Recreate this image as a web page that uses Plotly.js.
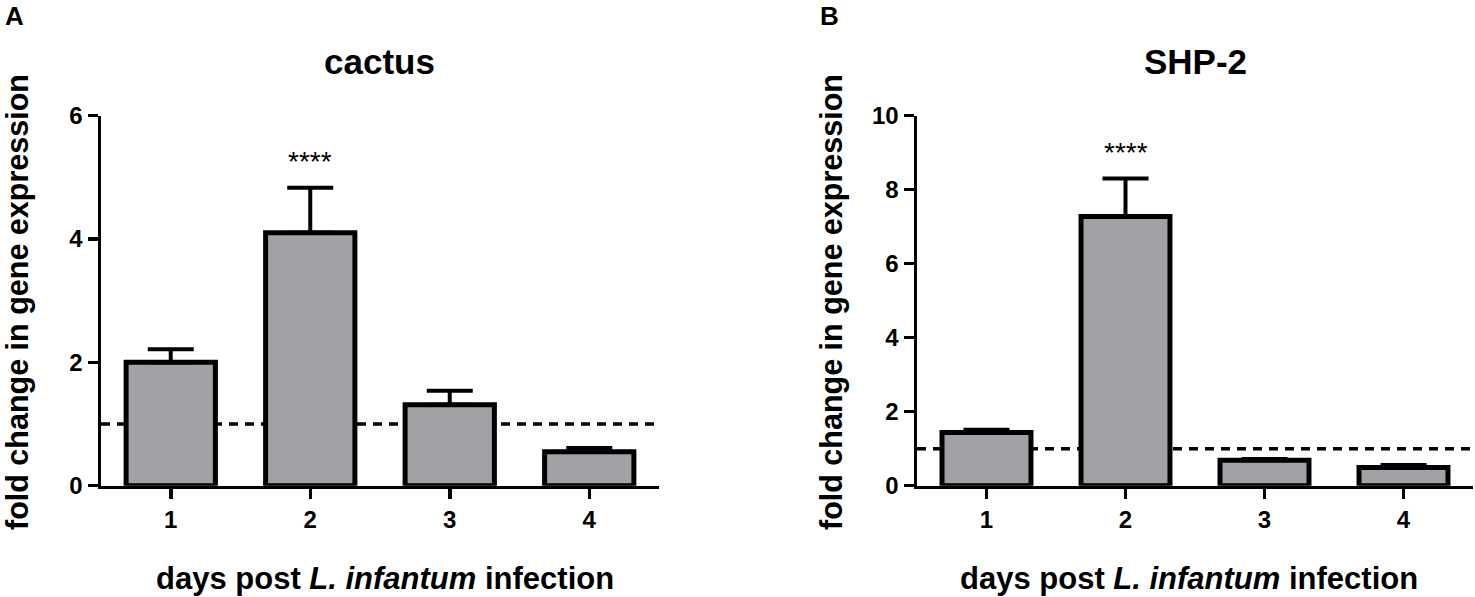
<!DOCTYPE html>
<html>
<head>
<meta charset="utf-8">
<script src="https://cdn.plot.ly/plotly-3.0.1.min.js"></script>
<style>html,body{margin:0;padding:0;background:#fff;}#chart{width:1475px;height:597px;}</style>
</head>
<body>
<div id="chart"></div>
<script>
// ---- data ----
const days = [1, 2, 3, 4];
const cactusMean = [2.0, 4.1, 1.31, 0.55];
const cactusErr = [0.21, 0.73, 0.23, 0.06];
const shp2Mean = [1.44, 7.27, 0.69, 0.49];
const shp2Err = [0.07, 1.03, 0.03, 0.07];
const cactusSig = ['', '****', '', ''];
const shp2Sig = ['', '****', '', ''];
const cactusSigY = [null, 5.26, null, null];
const shp2SigY = [null, 8.99, null, null];
const baseline = 1;
const cactusYTicks = [0, 2, 4, 6];
const shp2YTicks = [0, 2, 4, 6, 8, 10];
const panelTitles = ['cactus', 'SHP-2'];
const panelLetters = ['A', 'B'];
const xTitle = 'days post <i>L. infantum</i> infection';
const yTitle = 'fold change in gene expression';

// ---- styling ----
const W = 1475, H = 597;
const FONT = 'Liberation Sans, Arial, Helvetica, sans-serif';
const barFill = '#a2a1a6';
const px = v => v / W;          // x pixel -> paper
const py = v => 1 - v / H;      // y pixel -> paper

function barTrace(y, err, xa, ya) {
  return {
    type: 'bar', x: days, y: y, xaxis: xa, yaxis: ya,
    width: 0.64,
    marker: {color: barFill, line: {color: '#000', width: 5}},
    error_y: {type: 'data', array: err, arrayminus: days.map(() => 0), symmetric: false,
              color: '#000', thickness: 4, width: 23},
    hoverinfo: 'skip', showlegend: false
  };
}

const data = [
  barTrace(cactusMean, cactusErr, 'x', 'y'),
  barTrace(shp2Mean, shp2Err, 'x2', 'y2')
];

const yDomain = [py(485.7), py(115.5)];
const axBase = {
  showline: true, linecolor: '#000', linewidth: 3.5,
  ticks: 'outside', ticklen: 10, tickwidth: 3.5, tickcolor: '#000',
  showgrid: false, zeroline: false, fixedrange: true,
  tickfont: {family: FONT, size: 24, color: '#000', weight: 700}
};

const layout = {
  width: W, height: H,
  margin: {l: 0, r: 0, t: 0, b: 0, pad: 0},
  paper_bgcolor: '#fff', plot_bgcolor: '#fff',
  showlegend: false,
  xaxis: Object.assign({}, axBase, {domain: [px(101), px(659)], range: [0.5, 4.5],
          tickvals: days, ticktext: days.map(String), anchor: 'y'}),
  yaxis: Object.assign({}, axBase, {domain: yDomain, range: [0, 6], tickvals: cactusYTicks, anchor: 'x'}),
  xaxis2: Object.assign({}, axBase, {domain: [px(917), px(1473)], range: [0.5, 4.5],
          tickvals: days, ticktext: days.map(String), anchor: 'y2'}),
  yaxis2: Object.assign({}, axBase, {domain: yDomain, range: [0, 10], tickvals: shp2YTicks, anchor: 'x2'}),
  shapes: [
    {type: 'line', layer: 'below', xref: 'x domain', yref: 'y', x0: 0, x1: 1, y0: baseline, y1: baseline,
     line: {color: '#000', width: 3.5, dash: '9px,7px'}},
    {type: 'line', layer: 'below', xref: 'x2 domain', yref: 'y2', x0: 0, x1: 1, y0: baseline, y1: baseline,
     line: {color: '#000', width: 3.5, dash: '9px,7px'}}
  ],
  annotations: []
};

const ann = layout.annotations;
const boldFont = s => ({family: FONT, size: s, color: '#000', weight: 700});
function paperText(text, x, y, size, angle) {
  ann.push({text: text, xref: 'paper', yref: 'paper', x: px(x), y: py(y), xanchor: 'center', yanchor: 'middle',
            textangle: angle || 0, showarrow: false, font: boldFont(size)});
}
// panel letters
paperText(panelLetters[0], 15, 16, 26);
paperText(panelLetters[1], 829, 16, 26);
// panel titles
paperText(panelTitles[0], 379, 61.5, 35);
paperText(panelTitles[1], 1195, 61.5, 35);
// x titles
paperText(xTitle, 384.5, 578, 31);
paperText(xTitle, 1189, 578, 31);
// y titles
paperText(yTitle, 17, 302, 30.5, -90);
paperText(yTitle, 831, 302, 30.5, -90);
// significance stars
days.forEach((d, i) => {
  if (cactusSig[i]) ann.push({text: cactusSig[i], xref: 'x', yref: 'y', x: d, y: cactusSigY[i], xanchor: 'center',
    yanchor: 'middle', showarrow: false, font: {family: FONT, size: 28, color: '#000'}});
  if (shp2Sig[i]) ann.push({text: shp2Sig[i], xref: 'x2', yref: 'y2', x: d, y: shp2SigY[i], xanchor: 'center',
    yanchor: 'middle', showarrow: false, font: {family: FONT, size: 28, color: '#000'}});
});

Plotly.newPlot('chart', data, layout, {staticPlot: true, displayModeBar: false});
</script>
</body>
</html>
